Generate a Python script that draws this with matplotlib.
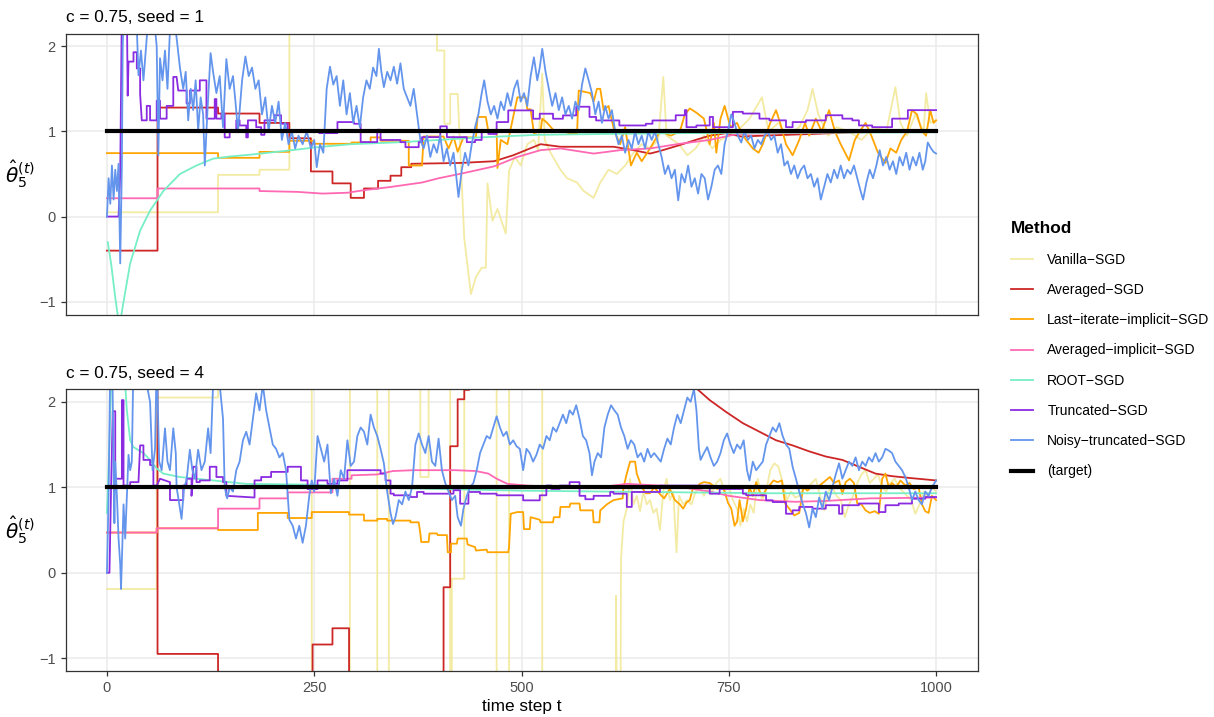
import matplotlib
matplotlib.use("Agg")
import matplotlib.pyplot as plt
from matplotlib.lines import Line2D

plt.rcParams['font.family'] = ['Liberation Sans', 'DejaVu Sans']

methods = ["Vanilla\u2212SGD", "Averaged\u2212SGD", "Last\u2212iterate\u2212implicit\u2212SGD",
           "Averaged\u2212implicit\u2212SGD", "ROOT\u2212SGD", "Truncated\u2212SGD",
           "Noisy\u2212truncated\u2212SGD", "(target)"]
colors = ["#F0E68C", "#CD2626", "#FFA500", "#FF69B4", "#76EEC6", "#8A2BE2", "#6495ED", "black"]

target_t = [0, 1000]
target_v = [1, 1]

# ---------------- seed = 1 ----------------
vanilla_s1 = [(0, 0.05), (134, 0.05), (134, 0.49), (184, 0.49), (184, 0.55), (220, 0.55), (220, 4.0), (398, 4.0),
              (398, 1.95), (407, 1.95), (407, 1.09), (414, 1.09), (414, 1.44), (423, 1.44), (431, -0.26), (439, -0.91),
              (445, -0.71), (452, -0.6), (457, -0.6), (459, 0.39), (465, -0.05), (471, 0.09), (481, -0.2), (485, 0.54),
              (492, 0.7), (499, 0.6), (507, 0.85), (515, 0.9), (520, 0.78), (525, 1.68), (528, 0.9), (535, 0.75),
              (547, 0.55), (555, 0.45), (567, 0.4), (575, 0.3), (587, 0.22), (595, 0.4), (605, 0.55), (615, 0.5),
              (625, 0.6), (635, 0.75), (645, 0.85), (655, 0.8), (665, 0.9), (671, 1.64), (675, 0.95), (690, 0.85),
              (700, 0.72), (710, 0.8), (720, 0.95), (730, 0.8), (740, 0.9), (750, 0.95), (760, 1.0), (775, 1.15),
              (790, 1.4), (798, 1.0), (810, 1.1), (820, 0.95), (835, 1.05), (845, 1.25), (851, 1.5), (858, 1.2),
              (870, 0.95), (880, 1.05), (895, 1.0), (910, 0.9), (925, 1.05), (940, 1.0), (951, 1.52), (957, 1.1),
              (965, 0.95), (975, 1.2), (985, 1.0), (988, 1.45), (993, 1.1), (1000, 1.13)]
averaged_s1 = [(0, -0.4), (61, -0.4), (61, 1.28), (134, 1.28), (134, 1.21), (184, 1.21), (184, 1.1), (220, 1.1),
               (220, 0.92), (246, 0.92), (246, 0.53), (272, 0.53), (272, 0.39), (294, 0.39), (294, 0.22), (310, 0.22),
               (310, 0.33), (327, 0.33), (327, 0.42), (342, 0.42), (342, 0.48), (355, 0.48), (355, 0.58), (367, 0.58),
               (367, 0.62), (427, 0.63), (467, 0.65), (490, 0.72), (523, 0.85), (547, 0.82), (611, 0.82), (635, 0.78),
               (655, 0.74), (667, 0.77), (691, 0.84), (710, 0.9), (727, 0.95), (747, 0.98), (765, 0.94), (790, 0.95),
               (850, 0.97), (900, 0.99), (1000, 1.0)]
implicit_s1 = [(0, 0.745), (134, 0.745), (134, 0.69), (184, 0.69), (184, 0.76), (220, 0.76), (220, 0.89), (250, 0.89),
               (250, 0.855), (295, 0.855), (295, 0.87), (318, 0.87), (318, 0.93), (330, 0.93), (330, 0.89), (364, 0.89),
               (364, 0.6), (380, 0.6), (382, 0.94), (406, 0.94), (412, 0.8), (418, 0.94), (423, 0.76), (430, 0.93),
               (445, 0.93), (447, 1.17), (457, 1.17), (460, 1.0), (470, 1.0), (471, 0.57), (475, 0.9), (483, 0.85),
               (495, 1.4), (505, 1.4), (507, 1.26), (511, 1.26), (515, 0.98), (523, 1.0), (525, 1.15), (531, 1.1),
               (540, 1.0), (551, 1.0), (560, 0.97), (567, 0.98), (569, 1.48), (583, 1.45), (587, 1.35), (591, 1.5),
               (595, 1.5), (599, 1.25), (605, 1.3), (612, 1.0), (619, 0.85), (625, 1.05), (632, 0.6), (639, 0.75),
               (645, 0.65), (655, 0.8), (667, 1.0), (680, 0.95), (691, 1.0), (697, 1.2), (703, 1.27), (711, 1.22),
               (720, 1.15), (727, 0.85), (732, 1.1), (735, 0.75), (740, 1.15), (745, 1.3), (752, 1.05), (760, 1.1),
               (767, 0.95), (779, 0.8), (786, 0.75), (791, 0.85), (800, 1.1), (807, 1.25), (812, 1.1), (819, 0.85),
               (827, 0.72), (835, 0.9), (842, 1.1), (847, 0.95), (855, 1.15), (862, 1.0), (871, 1.25), (878, 1.0),
               (885, 0.85), (895, 0.66), (902, 0.9), (908, 1.0), (915, 1.1), (922, 0.95), (930, 0.75), (939, 0.63),
               (945, 0.8), (952, 0.75), (958, 0.9), (965, 1.0), (971, 1.25), (977, 1.2), (983, 1.0), (988, 0.95),
               (993, 1.25), (997, 1.1), (1000, 1.13)]
avg_implicit_s1 = [(0, 0.215), (61, 0.215), (61, 0.33), (184, 0.33), (184, 0.3), (230, 0.29), (260, 0.27), (290, 0.28),
                   (310, 0.31), (340, 0.345), (380, 0.4), (400, 0.45), (430, 0.51), (467, 0.59), (495, 0.7),
                   (523, 0.78), (547, 0.8), (587, 0.74), (619, 0.78), (655, 0.8), (691, 0.855), (727, 0.9),
                   (760, 0.97), (800, 0.98), (900, 0.99), (1000, 1.0)]
root_s1 = [(1, -0.3), (5, -0.55), (10, -0.95), (15, -1.3), (20, -1.0), (28, -0.55), (40, -0.165), (52, 0.07),
           (68, 0.3), (88, 0.5), (108, 0.6), (128, 0.68), (148, 0.705), (176, 0.73), (214, 0.77), (254, 0.815),
           (294, 0.85), (358, 0.875), (400, 0.9), (450, 0.93), (520, 0.96), (600, 0.97), (700, 0.98), (800, 0.985),
           (1000, 0.99)]
truncated_s1 = [(0, 0.0), (14, 0.0), (16, 0.5), (18, 2.5), (24, 2.5), (25, 1.42), (26, 1.82), (32, 1.82), (32, 1.93),
                (36, 1.93), (36, 1.74), (40, 1.74), (40, 1.44), (42, 1.13), (48, 1.13), (48, 1.3), (52, 1.3),
                (52, 1.13), (60, 1.13), (60, 1.36), (64, 1.36), (64, 1.15), (72, 1.15), (72, 1.3), (80, 1.3),
                (80, 1.64), (84, 1.64), (86, 1.48), (96, 1.48), (96, 1.33), (100, 1.33), (100, 1.48), (112, 1.48),
                (112, 1.6), (120, 1.6), (120, 1.15), (130, 1.15), (130, 1.38), (132, 1.38), (132, 1.15), (138, 1.15),
                (138, 1.21), (142, 1.21), (142, 0.93), (148, 0.93), (148, 1.01), (156, 1.01), (156, 1.13), (160, 1.13),
                (160, 1.07), (168, 1.07), (168, 0.93), (170, 0.93), (170, 1.13), (180, 1.13), (180, 1.05), (186, 1.05),
                (186, 0.96), (190, 0.96), (190, 1.13), (202, 1.13), (202, 1.19), (210, 1.19), (210, 1.09), (218, 1.09),
                (218, 1.0), (256, 1.0), (256, 0.98), (278, 0.98), (278, 1.11), (298, 1.11), (298, 1.09), (306, 1.09),
                (306, 0.875), (326, 0.875), (326, 1.02), (330, 1.02), (330, 0.9), (354, 0.9), (354, 0.874),
                (360, 0.874), (360, 0.815), (376, 0.815), (376, 0.874), (380, 0.874), (380, 0.933), (402, 0.933),
                (402, 1.06), (410, 1.06), (410, 0.933), (434, 0.933), (434, 0.874), (444, 0.874), (444, 0.9),
                (452, 0.9), (452, 1.012), (460, 1.012), (460, 0.97), (470, 0.97), (470, 1.11), (484, 1.11),
                (484, 1.247), (514, 1.247), (514, 1.149), (522, 1.149), (522, 1.208), (538, 1.208), (538, 1.149),
                (550, 1.149), (550, 1.188), (566, 1.188), (566, 1.29), (582, 1.29), (582, 1.17), (590, 1.17),
                (590, 1.129), (618, 1.129), (618, 1.07), (650, 1.07), (650, 1.09), (658, 1.09), (658, 1.129),
                (686, 1.129), (686, 1.19), (697, 1.19), (697, 1.25), (699, 1.25), (699, 1.05), (711, 1.05),
                (711, 1.07), (727, 1.07), (727, 1.17), (731, 1.17), (731, 1.05), (755, 1.05), (755, 1.23), (767, 1.23),
                (767, 1.21), (787, 1.21), (787, 1.15), (799, 1.15), (799, 1.13), (819, 1.13), (819, 1.05), (827, 1.05),
                (827, 1.11), (843, 1.11), (843, 1.13), (867, 1.13), (867, 1.19), (887, 1.19), (887, 1.15), (899, 1.15),
                (899, 1.13), (907, 1.13), (907, 1.07), (923, 1.07), (923, 1.05), (947, 1.05), (947, 1.15), (966, 1.15),
                (966, 1.25), (1000, 1.25)]
noisy_s1 = [(0, 0.0), (2, 0.45), (4, 0.15), (6, 0.6), (8, 0.2), (10, 0.55), (12, 0.3), (14, 0.62), (16, -0.55),
            (18, 0.6), (19, 2.0), (21, 2.6), (25, 2.4), (28, 2.7), (32, 2.2), (35, 2.5), (38, 1.66), (41, 1.95),
            (44, 1.6), (48, 2.1), (52, 2.6), (57, 2.3), (60, 2.0), (62, 0.72), (64, 1.86), (67, 1.6), (70, 1.95),
            (73, 1.5), (76, 2.2), (80, 2.4), (84, 2.1), (88, 1.75), (92, 1.5), (95, 1.7), (98, 1.13), (101, 1.5),
            (104, 1.25), (107, 1.6), (110, 1.01), (113, 1.4), (116, 1.2), (118, 0.6), (121, 1.2), (125, 1.92),
            (128, 1.7), (132, 1.45), (136, 1.65), (140, 1.05), (144, 1.85), (148, 1.5), (152, 1.65), (155, 1.35),
            (158, 1.0), (163, 1.6), (167, 1.88), (171, 1.65), (175, 1.75), (179, 1.5), (183, 1.6), (187, 1.2),
            (191, 1.4), (195, 1.0), (199, 1.3), (203, 1.1), (207, 1.35), (211, 0.9), (215, 1.1), (219, 0.85),
            (223, 1.0), (227, 0.8), (231, 0.95), (236, 0.85), (241, 1.0), (246, 0.8), (250, 0.9), (253, 0.58),
            (257, 0.85), (261, 0.75), (265, 1.5), (269, 1.76), (273, 1.55), (277, 1.65), (281, 1.3), (285, 1.6),
            (289, 1.2), (293, 1.45), (297, 1.1), (301, 1.3), (305, 1.05), (309, 1.4), (313, 1.6), (317, 1.5),
            (321, 1.75), (325, 1.65), (328, 1.97), (331, 1.7), (334, 1.52), (338, 1.7), (342, 1.6), (346, 1.76),
            (350, 1.56), (354, 1.8), (358, 1.5), (362, 1.4), (366, 1.3), (370, 1.5), (374, 1.2), (378, 0.9),
            (382, 0.8), (386, 0.95), (390, 0.7), (394, 0.85), (398, 0.75), (402, 0.95), (406, 0.65), (410, 0.8),
            (414, 0.6), (418, 0.75), (421, 0.5), (424, 0.23), (428, 0.55), (432, 0.75), (436, 0.6), (440, 0.85),
            (444, 1.05), (448, 1.2), (452, 1.45), (455, 1.6), (459, 1.35), (463, 1.2), (467, 1.3), (471, 1.15),
            (475, 1.35), (479, 1.25), (483, 1.45), (487, 1.3), (491, 1.5), (495, 1.6), (499, 1.35), (503, 1.45),
            (507, 1.3), (511, 1.65), (515, 1.87), (519, 1.6), (522, 1.75), (525, 1.97), (529, 1.7), (533, 1.5),
            (537, 1.3), (541, 1.45), (545, 1.25), (549, 1.4), (553, 1.2), (557, 1.3), (561, 1.15), (565, 1.35),
            (569, 1.25), (573, 1.55), (577, 1.74), (581, 1.6), (585, 1.45), (589, 1.2), (593, 1.35), (597, 1.1),
            (601, 1.3), (605, 1.15), (609, 1.25), (613, 1.0), (617, 0.85), (621, 0.95), (625, 0.75), (629, 0.9),
            (633, 0.8), (637, 1.0), (641, 0.85), (645, 0.95), (649, 0.8), (653, 1.0), (657, 0.9), (661, 1.0),
            (665, 0.85), (669, 0.7), (673, 0.5), (677, 0.6), (681, 0.45), (685, 0.55), (689, 0.19), (693, 0.5),
            (697, 0.4), (701, 0.6), (705, 0.35), (709, 0.45), (713, 0.27), (717, 0.5), (721, 0.45), (725, 0.2),
            (729, 0.35), (733, 0.55), (737, 0.6), (741, 0.5), (745, 0.85), (749, 1.0), (753, 1.2), (757, 1.1),
            (761, 0.95), (765, 0.87), (769, 1.0), (773, 0.9), (777, 0.95), (781, 0.8), (785, 0.9), (789, 0.85),
            (793, 0.95), (797, 1.0), (801, 0.9), (805, 0.95), (809, 0.75), (813, 0.85), (817, 0.6), (821, 0.65),
            (825, 0.5), (829, 0.6), (833, 0.45), (837, 0.55), (841, 0.6), (845, 0.45), (849, 0.5), (853, 0.35),
            (857, 0.45), (861, 0.2), (865, 0.35), (869, 0.5), (873, 0.4), (877, 0.55), (881, 0.45), (885, 0.6),
            (889, 0.45), (893, 0.55), (897, 0.5), (901, 0.6), (905, 0.45), (909, 0.3), (912, 0.2), (916, 0.4),
            (920, 0.55), (924, 0.45), (928, 0.6), (932, 0.78), (936, 0.6), (940, 0.7), (944, 0.55), (948, 0.65),
            (952, 0.5), (956, 0.7), (960, 0.6), (964, 0.75), (968, 0.55), (972, 0.7), (976, 0.6), (980, 0.75),
            (984, 0.55), (987, 0.65), (990, 0.87), (994, 0.8), (997, 0.76), (1000, 0.74)]

# ---------------- seed = 4 ----------------
vanilla_s4 = [(0, -0.19), (60, -0.19), (60, 2.05), (134, 2.05), (134, 5), (247, 5), (247, -5), (293, -5), (293, 5),
              (326, 5), (326, -5), (340, -5), (340, 5), (378, 5), (378, 1.12), (388, 1.12), (388, 5), (414, 5),
              (414, -5), (416, -5), (416, -0.07), (431, -0.07), (431, 5), (470, 5), (470, -5), (485, -5), (485, 5),
              (525, 5), (525, -5), (613, -5), (614, -0.27), (616, -3), (619, -3), (620, 0.16), (623, 0.6), (627, 0.75),
              (631, 1.1), (635, 0.8), (639, 0.9), (643, 0.72), (647, 0.95), (651, 0.8), (655, 0.85), (659, 0.7),
              (663, 0.75), (667, 0.5), (671, 0.95), (675, 1.1), (679, 0.85), (683, 0.95), (687, 0.24), (690, 0.9),
              (695, 0.8), (700, 0.85), (705, 0.8), (710, 0.95), (715, 1.0), (720, 0.9), (725, 1.0), (730, 0.95),
              (735, 1.05), (740, 1.1), (745, 0.95), (750, 1.0), (755, 0.85), (760, 0.75), (764, 0.55), (768, 0.75),
              (772, 0.6), (776, 0.8), (780, 0.7), (785, 1.1), (790, 0.85), (795, 0.95), (800, 1.2), (805, 1.28),
              (810, 1.24), (815, 1.05), (820, 0.85), (825, 0.95), (830, 0.88), (835, 0.9), (840, 1.0), (845, 1.0),
              (850, 1.05), (855, 1.1), (860, 0.9), (865, 0.73), (870, 0.95), (875, 1.0), (880, 0.9), (885, 0.85),
              (890, 0.65), (895, 0.8), (900, 0.9), (905, 1.05), (910, 1.15), (915, 1.2), (920, 1.05), (925, 1.1),
              (930, 1.15), (935, 1.0), (940, 0.95), (945, 1.05), (950, 1.1), (955, 1.0), (960, 0.95), (965, 0.9),
              (970, 0.85), (975, 0.69), (980, 0.8), (985, 0.95), (990, 0.88), (995, 1.0), (1000, 0.95)]
averaged_s4 = [(0, 4), (61, 4), (61, -0.95), (134, -0.95), (134, -4), (248, -4), (248, -0.84), (272, -0.84),
               (272, -0.65), (292, -0.65), (292, -4), (406, -4), (406, -0.17), (414, -0.17), (414, 1.48), (423, 1.48),
               (423, 2.03), (431, 2.03), (431, 2.14), (437, 2.14), (437, 2.6), (500, 2.9), (600, 2.7), (690, 2.3),
               (713, 2.14), (727, 2.02), (747, 1.88), (767, 1.75), (787, 1.65), (807, 1.55), (827, 1.49), (847, 1.42),
               (867, 1.36), (887, 1.32), (907, 1.24), (927, 1.16), (947, 1.13), (967, 1.11), (1000, 1.08)]
implicit_s4 = [(0, 0.47), (60, 0.47), (60, 0.52), (134, 0.52), (134, 0.5), (182, 0.5), (182, 0.7), (218, 0.7),
               (218, 0.64), (247, 0.64), (247, 0.71), (292, 0.71), (292, 0.68), (310, 0.68), (310, 0.61), (326, 0.61),
               (326, 0.63), (338, 0.63), (338, 0.61), (366, 0.61), (366, 0.59), (376, 0.59), (378, 0.46), (379, 0.36),
               (388, 0.36), (389, 0.46), (398, 0.46), (399, 0.44), (410, 0.44), (411, 0.24), (415, 0.24), (415, 0.34),
               (422, 0.34), (423, 0.4), (434, 0.4), (435, 0.33), (444, 0.3), (445, 0.26), (458, 0.27), (459, 0.24),
               (484, 0.24), (485, 0.3), (487, 0.69), (495, 0.71), (502, 0.71), (503, 0.51), (510, 0.51), (511, 0.65),
               (522, 0.62), (523, 0.59), (538, 0.59), (539, 0.65), (546, 0.65), (547, 0.77), (558, 0.77), (559, 0.81),
               (570, 0.81), (571, 0.73), (586, 0.73), (587, 0.59), (594, 0.59), (595, 0.73), (603, 0.8), (611, 0.85),
               (622, 0.87), (623, 1.0), (627, 1.16), (631, 1.3), (637, 1.3), (639, 1.16), (645, 1.0), (650, 0.93),
               (655, 0.93), (660, 1.0), (667, 0.92), (672, 0.87), (679, 0.98), (685, 0.85), (691, 0.8), (695, 0.75),
               (699, 0.82), (703, 0.85), (707, 1.0), (711, 0.98), (715, 1.04), (720, 1.06), (727, 1.05), (731, 1.02),
               (736, 0.98), (741, 1.02), (745, 0.95), (749, 0.82), (753, 0.75), (757, 0.55), (760, 0.6), (763, 0.85),
               (767, 0.6), (771, 0.75), (775, 1.0), (779, 0.9), (783, 1.06), (787, 0.95), (791, 0.9), (795, 0.98),
               (799, 1.02), (804, 1.08), (809, 1.06), (814, 1.08), (818, 0.81), (823, 0.75), (829, 0.67), (835, 0.7),
               (840, 1.0), (845, 0.96), (851, 1.02), (857, 1.0), (862, 1.04), (867, 1.08), (872, 1.12), (877, 1.05),
               (883, 1.08), (887, 0.92), (891, 1.06), (896, 1.1), (901, 1.05), (905, 0.81), (910, 0.8), (915, 0.73),
               (920, 0.7), (926, 0.72), (931, 0.69), (935, 1.1), (939, 1.16), (943, 1.0), (947, 1.05), (952, 1.0),
               (957, 1.08), (963, 1.02), (968, 1.05), (973, 0.98), (979, 1.0), (983, 0.8), (987, 0.72), (991, 0.7),
               (995, 0.9), (1000, 0.85)]
avg_implicit_s4 = [(0, 0.47), (60, 0.47), (60, 0.52), (134, 0.52), (134, 0.75), (184, 0.75), (184, 0.87), (218, 0.87),
                   (218, 0.94), (272, 0.94), (272, 1.1), (295, 1.1), (295, 1.14), (326, 1.15), (345, 1.19),
                   (370, 1.2), (420, 1.2), (445, 1.19), (460, 1.16), (470, 1.1), (483, 1.04), (507, 1.02), (550, 1.0),
                   (595, 1.0), (627, 1.04), (667, 1.02), (700, 0.99), (727, 0.95), (750, 0.9), (787, 0.85),
                   (830, 0.83), (867, 0.84), (920, 0.87), (1000, 0.88)]
root_s4 = [(0, 0.7), (3, 1.5), (6, 2.6), (12, 3.0), (20, 2.5), (24, 1.9), (28, 1.55), (32, 1.47), (44, 1.4),
           (52, 1.32), (60, 1.22), (68, 1.16), (88, 1.12), (108, 1.1), (128, 1.08), (148, 1.06), (168, 1.04),
           (250, 1.03), (300, 1.0), (400, 0.98), (500, 0.96), (600, 0.95), (700, 0.94), (800, 0.93), (1000, 0.93)]
truncated_s4 = [(0, 0.0), (3, 0.0), (5, 1.0), (7, 1.89), (10, 1.89), (10, 1.1), (18, 1.1), (18, 2.02), (20, 2.02),
                (20, 1.02), (28, 1.02), (28, 1.06), (38, 1.06), (40, 1.49), (44, 1.49), (44, 1.32), (52, 1.32),
                (52, 1.26), (56, 1.26), (56, 1.02), (60, 1.02), (64, 1.1), (76, 1.06), (76, 0.85), (92, 0.85),
                (92, 1.02), (96, 1.02), (96, 1.1), (102, 1.1), (102, 0.9), (104, 1.24), (108, 1.24), (108, 1.06),
                (112, 1.06), (112, 1.08), (124, 1.08), (124, 1.24), (132, 1.24), (132, 1.12), (140, 1.12), (140, 1.06),
                (144, 1.06), (144, 0.9), (178, 0.88), (178, 1.08), (186, 1.08), (186, 1.12), (198, 1.12), (198, 1.18),
                (218, 1.18), (218, 1.24), (234, 1.24), (234, 1.08), (242, 1.08), (242, 0.98), (254, 0.98), (254, 1.08),
                (266, 1.08), (266, 1.04), (278, 1.04), (278, 1.08), (290, 1.08), (290, 1.2), (330, 1.2), (330, 1.16),
                (336, 1.16), (336, 1.08), (342, 1.08), (342, 0.925), (346, 0.925), (346, 0.906), (366, 0.906),
                (366, 0.886), (374, 0.886), (374, 0.945), (382, 0.945), (382, 0.925), (418, 0.925), (418, 0.965),
                (426, 0.965), (426, 0.808), (436, 0.808), (436, 0.945), (450, 0.945), (450, 0.925), (470, 0.925),
                (470, 0.906), (502, 0.906), (502, 0.847), (522, 0.847), (522, 0.906), (530, 0.906), (530, 1.02),
                (536, 1.02), (536, 0.98), (546, 0.98), (546, 1.02), (558, 1.02), (558, 1.06), (570, 1.06), (570, 0.9),
                (577, 0.9), (577, 0.86), (587, 0.86), (587, 0.9), (607, 0.9), (607, 0.945), (611, 0.945), (611, 0.925),
                (627, 0.925), (627, 0.77), (633, 0.77), (633, 0.945), (667, 0.945), (667, 1.02), (727, 1.02),
                (727, 0.925), (739, 0.925), (739, 0.98), (767, 0.98), (767, 0.925), (771, 0.925), (771, 0.906),
                (795, 0.906), (795, 0.847), (803, 0.847), (803, 0.827), (819, 0.827), (819, 0.69), (827, 0.69),
                (827, 0.73), (835, 0.73), (835, 0.77), (851, 0.77), (851, 0.75), (867, 0.75), (867, 0.79), (883, 0.79),
                (883, 0.69), (887, 0.69), (887, 0.79), (907, 0.79), (907, 0.81), (931, 0.81), (931, 0.71), (939, 0.71),
                (939, 0.79), (955, 0.79), (955, 0.81), (971, 0.81), (971, 0.866), (987, 0.866), (987, 0.886),
                (1000, 0.886)]
noisy_s4 = [(0, 0.0), (2, 0.9), (4, 2.5), (6, 2.8), (8, 1.2), (9, 0.58), (10, 1.3), (12, 0.9), (14, 0.4), (16, 0.1),
            (17, -0.19), (19, 0.5), (20, 0.8), (22, 0.4), (24, 0.9), (26, 1.38), (28, 1.2), (30, 1.3), (32, 2.5),
            (36, 2.8), (40, 2.3), (44, 2.6), (48, 2.2), (52, 2.0), (55, 1.2), (58, 1.45), (60, 2.5), (63, 1.3),
            (66, 1.2), (70, 1.69), (73, 1.3), (76, 1.2), (80, 1.69), (83, 1.4), (84, 1.0), (88, 0.75), (90, 0.63),
            (93, 1.0), (96, 1.08), (100, 1.44), (103, 1.2), (106, 1.1), (110, 1.44), (114, 1.2), (118, 1.3),
            (122, 1.69), (125, 1.4), (128, 2.2), (132, 2.3), (136, 2.2), (140, 1.8), (142, 1.0), (145, 0.87),
            (148, 1.0), (152, 0.95), (156, 1.2), (160, 1.3), (164, 1.55), (168, 1.65), (172, 1.5), (176, 1.8),
            (180, 2.1), (184, 1.9), (188, 2.2), (192, 1.9), (196, 1.7), (200, 1.5), (204, 1.45), (208, 1.35),
            (212, 1.4), (216, 1.2), (220, 0.62), (224, 0.55), (228, 0.4), (232, 0.55), (236, 0.35), (240, 0.55),
            (244, 0.9), (247, 1.08), (250, 0.95), (254, 1.6), (258, 1.45), (262, 1.3), (266, 1.5), (270, 0.93),
            (274, 1.1), (278, 0.9), (282, 1.2), (286, 1.1), (290, 1.55), (294, 1.25), (298, 1.3), (302, 1.6),
            (306, 1.7), (310, 1.65), (314, 1.5), (318, 1.85), (322, 1.7), (326, 1.6), (330, 1.45), (334, 1.28),
            (338, 0.95), (342, 0.7), (345, 0.57), (348, 0.65), (352, 0.85), (356, 0.8), (360, 0.95), (364, 0.85),
            (368, 1.0), (372, 1.5), (376, 1.63), (380, 1.5), (384, 1.4), (388, 1.6), (392, 1.3), (396, 1.25),
            (400, 1.57), (404, 1.2), (408, 1.05), (412, 0.95), (416, 0.85), (420, 0.9), (423, 0.65), (427, 0.55),
            (430, 0.75), (434, 0.9), (438, 1.0), (442, 1.05), (446, 1.2), (450, 1.4), (454, 1.5), (458, 1.6),
            (462, 1.57), (466, 1.7), (470, 1.83), (474, 1.7), (478, 1.6), (482, 1.65), (486, 1.5), (490, 1.55),
            (494, 1.48), (498, 1.45), (502, 1.2), (506, 1.45), (510, 1.4), (514, 1.3), (518, 1.38), (522, 1.5),
            (526, 1.45), (530, 1.6), (534, 1.55), (538, 1.7), (542, 1.65), (546, 1.75), (550, 1.85), (554, 1.75),
            (558, 1.9), (562, 1.85), (566, 1.96), (570, 1.8), (574, 1.6), (578, 1.55), (582, 1.4), (585, 1.14),
            (588, 1.3), (592, 1.4), (596, 1.35), (600, 1.7), (604, 1.85), (608, 1.96), (612, 1.9), (616, 1.85),
            (620, 1.7), (624, 1.6), (628, 1.45), (632, 1.55), (636, 1.5), (640, 1.35), (644, 1.4), (648, 1.3),
            (652, 1.45), (656, 1.35), (660, 1.4), (664, 1.35), (668, 1.3), (672, 1.45), (676, 1.57), (680, 1.5),
            (684, 1.7), (688, 1.85), (692, 1.75), (696, 1.9), (700, 2.05), (704, 2.0), (708, 2.15), (711, 1.9),
            (714, 1.45), (716, 1.32), (720, 1.4), (724, 1.47), (728, 1.35), (732, 1.25), (736, 1.3), (740, 1.4),
            (744, 1.55), (748, 1.63), (752, 1.5), (756, 1.4), (760, 1.5), (764, 1.45), (768, 1.55), (772, 1.2),
            (775, 1.08), (779, 1.3), (783, 1.2), (787, 1.25), (791, 1.3), (795, 1.5), (799, 1.6), (803, 1.7),
            (807, 1.65), (811, 1.75), (815, 1.6), (819, 1.5), (823, 1.45), (827, 1.24), (831, 1.1), (835, 0.95),
            (839, 0.81), (843, 0.7), (847, 0.53), (851, 0.75), (855, 0.65), (859, 0.88), (863, 0.75), (867, 0.95),
            (871, 0.85), (875, 1.0), (879, 1.15), (883, 1.28), (887, 1.1), (891, 1.2), (895, 1.3), (899, 1.25),
            (903, 1.35), (907, 1.2), (911, 1.3), (915, 1.25), (919, 1.35), (923, 1.3), (927, 1.4), (931, 1.3),
            (935, 1.35), (939, 1.45), (943, 1.43), (947, 1.4), (951, 1.3), (955, 1.25), (959, 1.2), (963, 1.12),
            (967, 1.0), (971, 0.85), (975, 0.95), (979, 0.85), (983, 0.8), (987, 0.95), (991, 0.9), (995, 1.0),
            (1000, 1.08)]

panels = [
    ("c = 0.75, seed = 1", [vanilla_s1, averaged_s1, implicit_s1, avg_implicit_s1, root_s1, truncated_s1, noisy_s1]),
    ("c = 0.75, seed = 4", [vanilla_s4, averaged_s4, implicit_s4, avg_implicit_s4, root_s4, truncated_s4, noisy_s4]),
]

W, H = 1214, 717
fig = plt.figure(figsize=(W / 100, H / 100), dpi=100)
ax1 = fig.add_axes([65.5 / W, 1 - 314.5 / H, 912 / W, 281 / H])
ax2 = fig.add_axes([65.5 / W, 1 - 671 / H, 912 / W, 282 / H])

for ax, (title, series) in zip([ax1, ax2], panels):
    for data, col in zip(series, colors[:-1]):
        t, v = zip(*data)
        alpha = 0.8 if col == "#F0E68C" else 1.0
        ax.plot(t, v, color=col, lw=1.3, alpha=alpha)
    ax.plot(target_t, target_v, color="black", lw=3)

    ax.set_xlim(-50, 1050)
    ax.set_ylim(-1.15, 2.15)
    ax.set_xticks([0, 250, 500, 750, 1000])
    ax.set_yticks([-1, 0, 1, 2])
    ax.grid(color="#EBEBEB", lw=1.1)
    ax.set_axisbelow(True)
    for s in ax.spines.values():
        s.set_color("#333333")
        s.set_linewidth(0.9)
    ax.tick_params(length=3.5, width=0.9, color="#333333", labelcolor="#4D4D4D", labelsize=10.5)
    ax.set_title(title, loc="left", fontsize=12.4, pad=8)
    ax.set_ylabel(r"$\hat{\theta}_5^{(t)}$", rotation=0, fontsize=14.5, va="center", ha="center")
    ax.yaxis.set_label_coords(-0.05, 0.5)

ax1.tick_params(axis="x", length=0, labelbottom=False)
ax2.set_xlabel("time step t", fontsize=12.4, labelpad=3)

handles = [Line2D([], [], color=c, lw=3 if c == "black" else 1.3,
                  alpha=0.8 if c == "#F0E68C" else 1.0) for c in colors]
leg = fig.legend(handles, methods, title="Method", loc="upper left",
                 bbox_to_anchor=(998 / W, 1 - 209 / H), frameon=False, fontsize=10,
                 title_fontsize=12.4, handlelength=1.65, handletextpad=1.0,
                 labelspacing=1.17, alignment="left")
leg.get_title().set_fontweight("bold")

fig.savefig("out.png", dpi=100)
